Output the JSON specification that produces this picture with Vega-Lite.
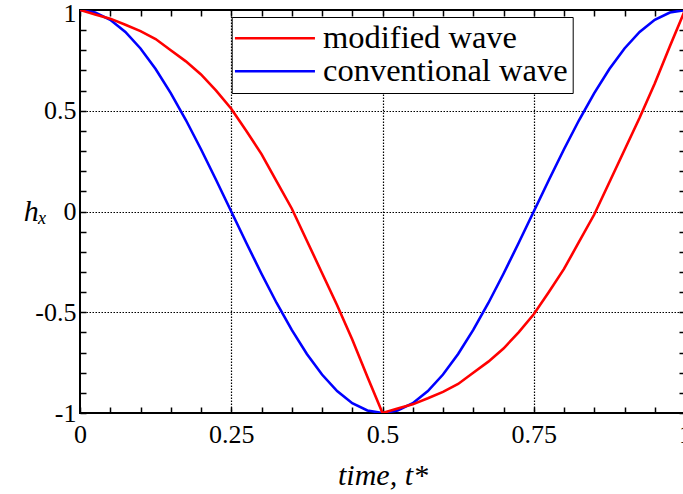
{
  "$schema": "https://vega.github.io/schema/vega-lite/v6.json",
  "width": 605,
  "height": 403,
  "autosize": {"type": "none"},
  "padding": {"left": 80, "top": 10, "right": -2, "bottom": 81},
  "background": "white",
  "config": {
    "view": {"stroke": "black", "strokeWidth": 2},
    "font": "Liberation Serif"
  },
  "data": {
    "values": [
      {"t": 0, "h": 1, "wave": "conventional wave"},
      {"t": 0.025, "h": 0.9877, "wave": "conventional wave"},
      {"t": 0.05, "h": 0.9511, "wave": "conventional wave"},
      {"t": 0.075, "h": 0.891, "wave": "conventional wave"},
      {"t": 0.1, "h": 0.809, "wave": "conventional wave"},
      {"t": 0.125, "h": 0.7071, "wave": "conventional wave"},
      {"t": 0.15, "h": 0.5878, "wave": "conventional wave"},
      {"t": 0.175, "h": 0.454, "wave": "conventional wave"},
      {"t": 0.2, "h": 0.309, "wave": "conventional wave"},
      {"t": 0.225, "h": 0.1564, "wave": "conventional wave"},
      {"t": 0.25, "h": 0, "wave": "conventional wave"},
      {"t": 0.275, "h": -0.1564, "wave": "conventional wave"},
      {"t": 0.3, "h": -0.309, "wave": "conventional wave"},
      {"t": 0.325, "h": -0.454, "wave": "conventional wave"},
      {"t": 0.35, "h": -0.5878, "wave": "conventional wave"},
      {"t": 0.375, "h": -0.7071, "wave": "conventional wave"},
      {"t": 0.4, "h": -0.809, "wave": "conventional wave"},
      {"t": 0.425, "h": -0.891, "wave": "conventional wave"},
      {"t": 0.45, "h": -0.9511, "wave": "conventional wave"},
      {"t": 0.475, "h": -0.9877, "wave": "conventional wave"},
      {"t": 0.5, "h": -1, "wave": "conventional wave"},
      {"t": 0.525, "h": -0.9877, "wave": "conventional wave"},
      {"t": 0.55, "h": -0.9511, "wave": "conventional wave"},
      {"t": 0.575, "h": -0.891, "wave": "conventional wave"},
      {"t": 0.6, "h": -0.809, "wave": "conventional wave"},
      {"t": 0.625, "h": -0.7071, "wave": "conventional wave"},
      {"t": 0.65, "h": -0.5878, "wave": "conventional wave"},
      {"t": 0.675, "h": -0.454, "wave": "conventional wave"},
      {"t": 0.7, "h": -0.309, "wave": "conventional wave"},
      {"t": 0.725, "h": -0.1564, "wave": "conventional wave"},
      {"t": 0.75, "h": 0, "wave": "conventional wave"},
      {"t": 0.775, "h": 0.1564, "wave": "conventional wave"},
      {"t": 0.8, "h": 0.309, "wave": "conventional wave"},
      {"t": 0.825, "h": 0.454, "wave": "conventional wave"},
      {"t": 0.85, "h": 0.5878, "wave": "conventional wave"},
      {"t": 0.875, "h": 0.7071, "wave": "conventional wave"},
      {"t": 0.9, "h": 0.809, "wave": "conventional wave"},
      {"t": 0.925, "h": 0.891, "wave": "conventional wave"},
      {"t": 0.95, "h": 0.9511, "wave": "conventional wave"},
      {"t": 0.975, "h": 0.9877, "wave": "conventional wave"},
      {"t": 1, "h": 1, "wave": "conventional wave"},
      {"t": 0, "h": 1, "wave": "modified wave"},
      {"t": 0.025, "h": 0.978, "wave": "modified wave"},
      {"t": 0.05, "h": 0.957, "wave": "modified wave"},
      {"t": 0.075, "h": 0.927, "wave": "modified wave"},
      {"t": 0.1, "h": 0.895, "wave": "modified wave"},
      {"t": 0.125, "h": 0.856, "wave": "modified wave"},
      {"t": 0.15, "h": 0.8, "wave": "modified wave"},
      {"t": 0.175, "h": 0.745, "wave": "modified wave"},
      {"t": 0.2, "h": 0.68, "wave": "modified wave"},
      {"t": 0.225, "h": 0.6, "wave": "modified wave"},
      {"t": 0.25, "h": 0.51, "wave": "modified wave"},
      {"t": 0.275, "h": 0.4, "wave": "modified wave"},
      {"t": 0.3, "h": 0.285, "wave": "modified wave"},
      {"t": 0.325, "h": 0.15, "wave": "modified wave"},
      {"t": 0.35, "h": 0.015, "wave": "modified wave"},
      {"t": 0.375, "h": -0.145, "wave": "modified wave"},
      {"t": 0.4, "h": -0.305, "wave": "modified wave"},
      {"t": 0.425, "h": -0.465, "wave": "modified wave"},
      {"t": 0.45, "h": -0.635, "wave": "modified wave"},
      {"t": 0.475, "h": -0.82, "wave": "modified wave"},
      {"t": 0.5, "h": -1, "wave": "modified wave"},
      {"t": 0.525, "h": -0.978, "wave": "modified wave"},
      {"t": 0.55, "h": -0.957, "wave": "modified wave"},
      {"t": 0.575, "h": -0.927, "wave": "modified wave"},
      {"t": 0.6, "h": -0.895, "wave": "modified wave"},
      {"t": 0.625, "h": -0.856, "wave": "modified wave"},
      {"t": 0.65, "h": -0.8, "wave": "modified wave"},
      {"t": 0.675, "h": -0.745, "wave": "modified wave"},
      {"t": 0.7, "h": -0.68, "wave": "modified wave"},
      {"t": 0.725, "h": -0.6, "wave": "modified wave"},
      {"t": 0.75, "h": -0.51, "wave": "modified wave"},
      {"t": 0.775, "h": -0.4, "wave": "modified wave"},
      {"t": 0.8, "h": -0.285, "wave": "modified wave"},
      {"t": 0.825, "h": -0.15, "wave": "modified wave"},
      {"t": 0.85, "h": -0.015, "wave": "modified wave"},
      {"t": 0.875, "h": 0.145, "wave": "modified wave"},
      {"t": 0.9, "h": 0.305, "wave": "modified wave"},
      {"t": 0.925, "h": 0.465, "wave": "modified wave"},
      {"t": 0.95, "h": 0.635, "wave": "modified wave"},
      {"t": 0.975, "h": 0.82, "wave": "modified wave"},
      {"t": 1, "h": 1, "wave": "modified wave"}
    ]
  },
  "layer": [
    {
      "mark": {"type": "line", "strokeWidth": 2.6, "clip": true},
      "encoding": {
        "x": {
          "field": "t",
          "type": "quantitative",
          "scale": {"domain": [0, 1], "nice": false, "zero": false},
          "axis": {
            "orient": "bottom",
            "values": [0, 0.05, 0.1, 0.15, 0.2, 0.25, 0.3, 0.35, 0.4, 0.45, 0.5, 0.55, 0.6, 0.65, 0.7, 0.75, 0.8, 0.85, 0.9, 0.95, 1],
            "format": ".2~f",
            "labelExpr": "abs(datum.value*4-round(datum.value*4))<0.001 ? datum.label : ''",
            "domain": false,
            "grid": true,
            "gridColor": "black",
            "gridDash": [1.5, 1.5],
            "gridWidth": 1.2,
            "gridOpacity": {"condition": {"test": "abs(datum.value*4-round(datum.value*4))<0.001 && datum.value>0.01 && datum.value<0.99", "value": 1}, "value": 0},
            "ticks": true,
            "tickColor": "black",
            "tickWidth": 1.5,
            "tickSize": -6,
            "labelFont": "Liberation Serif",
            "labelFontSize": 26,
            "labelColor": "black",
            "labelPadding": 14,
            "labelFlush": false,
            "labelOverlap": false,
            "title": "time, t*",
            "titleFont": "Liberation Serif",
            "titleFontStyle": "italic",
            "titleFontWeight": "normal",
            "titleFontSize": 30,
            "titleColor": "black",
            "titlePadding": 13
          }
        },
        "y": {
          "field": "h",
          "type": "quantitative",
          "scale": {"domain": [-1, 1], "nice": false, "zero": false},
          "axis": {
            "orient": "left",
            "values": [-1, -0.9, -0.8, -0.7, -0.6, -0.5, -0.4, -0.3, -0.2, -0.1, 0, 0.1, 0.2, 0.3, 0.4, 0.5, 0.6, 0.7, 0.8, 0.9, 1],
            "format": ".1~f",
            "labelExpr": "abs(datum.value*2-round(datum.value*2))<0.001 ? replace(datum.label, '\u2212', '-') : ''",
            "labelOffset": {"condition": {"test": "datum.value>0.99", "value": 3}, "value": 0},
            "domain": false,
            "grid": true,
            "gridColor": "black",
            "gridDash": [1.5, 1.5],
            "gridWidth": 1.2,
            "gridOpacity": {"condition": {"test": "abs(datum.value*2-round(datum.value*2))<0.001 && datum.value>-0.99 && datum.value<0.99", "value": 1}, "value": 0},
            "ticks": true,
            "tickColor": "black",
            "tickWidth": 1.5,
            "tickSize": -6,
            "labelFont": "Liberation Serif",
            "labelFontSize": 26,
            "labelColor": "black",
            "labelPadding": 10,
            "labelFlush": false,
            "labelOverlap": false,
            "title": "hₓ",
            "titleFont": "Liberation Serif",
            "titleFontStyle": "italic",
            "titleFontWeight": "normal",
            "titleFontSize": 30,
            "titleColor": "black",
            "titleAngle": 0,
            "titleAlign": "center",
            "titleBaseline": "middle",
            "titleX": -45,
            "titleY": 201
          }
        },
        "color": {
          "field": "wave",
          "type": "nominal",
          "sort": null,
          "scale": {"domain": ["modified wave", "conventional wave"], "range": ["#ff0000", "#0000ff"]},
          "legend": {
            "orient": "none",
            "legendX": 151.7,
            "legendY": 7,
            "title": null,
            "symbolType": "M-7.2,0H24.8",
            "symbolSize": 25,
            "symbolStrokeWidth": 2.6,
            "labelFont": "Liberation Serif",
            "labelFontSize": 32.5,
            "labelColor": "black",
            "labelLimit": 500,
            "labelOffset": 53.8,
            "rowPadding": -1.5,
            "padding": 5,
            "strokeColor": "black",
            "fillColor": "white",
            "cornerRadius": 0
          }
        }
      }
    },
    {
      "mark": {"type": "line", "opacity": 0},
      "encoding": {
        "x": {
          "field": "t",
          "type": "quantitative",
          "axis": {
            "orient": "top",
            "values": [0, 0.05, 0.1, 0.15, 0.2, 0.25, 0.3, 0.35, 0.4, 0.45, 0.5, 0.55, 0.6, 0.65, 0.7, 0.75, 0.8, 0.85, 0.9, 0.95, 1],
            "labels": false,
            "domain": false,
            "grid": false,
            "tickColor": "black",
            "tickWidth": 1.5,
            "tickSize": -6,
            "title": null
          }
        },
        "y": {
          "field": "h",
          "type": "quantitative",
          "axis": {
            "orient": "right",
            "values": [-1, -0.9, -0.8, -0.7, -0.6, -0.5, -0.4, -0.3, -0.2, -0.1, 0, 0.1, 0.2, 0.3, 0.4, 0.5, 0.6, 0.7, 0.8, 0.9, 1],
            "labels": false,
            "domain": false,
            "grid": false,
            "tickColor": "black",
            "tickWidth": 1.5,
            "tickSize": -6,
            "title": null
          }
        }
      }
    }
  ],
  "resolve": {"axis": {"x": "independent", "y": "independent"}}
}
